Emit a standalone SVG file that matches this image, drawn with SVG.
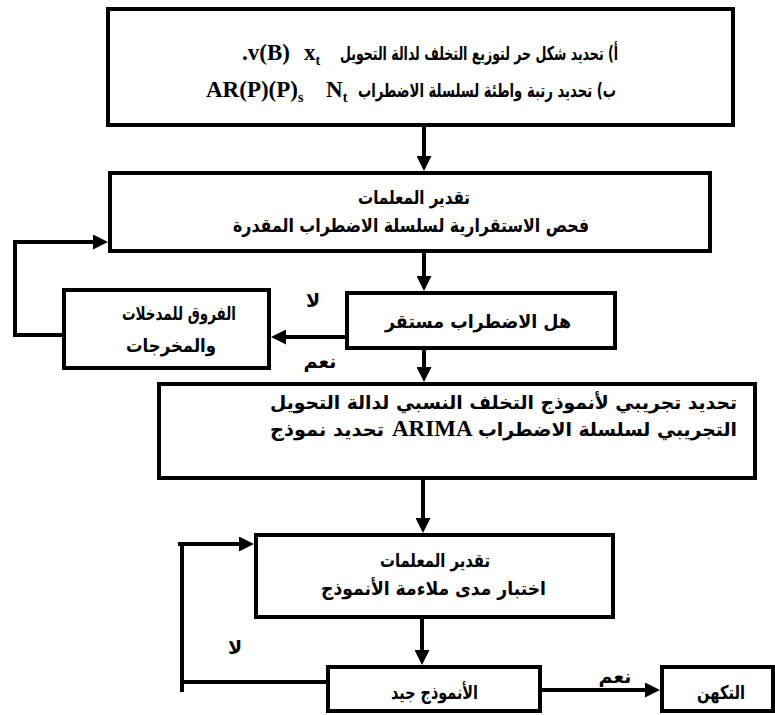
<svg xmlns="http://www.w3.org/2000/svg" width="775" height="715" viewBox="0 0 775 715">
<style>
.box{fill:#fff;stroke:#000;stroke-width:4}
.ln{fill:none;stroke:#000;stroke-width:4}
.ar{font-family:"DejaVu Sans","Liberation Sans",sans-serif;font-weight:bold;font-size:19px;fill:#000}
.lat{font-family:"Liberation Serif",serif;font-weight:bold;font-size:23px;fill:#000}
.sub{font-size:14px}
</style>
<defs>
<marker id="ah" markerUnits="userSpaceOnUse" viewBox="0 0 15 15" markerWidth="15" markerHeight="15" refX="3" refY="7.5" orient="auto">
<path d="M0,0 L15,7.5 L0,15 z" fill="#000"/>
</marker>
</defs>
<rect width="775" height="715" fill="#fff"/>

<g id="connectors">
<line class="ln" x1="424" y1="127" x2="424" y2="159" marker-end="url(#ah)"/>
<line class="ln" x1="424" y1="253" x2="424" y2="279" marker-end="url(#ah)"/>
<line class="ln" x1="424" y1="350" x2="424" y2="370" marker-end="url(#ah)"/>
<line class="ln" x1="345" y1="337" x2="283" y2="337" marker-end="url(#ah)"/>
<path class="ln" d="M62,335 H15 V242 H96" marker-end="url(#ah)"/>
<line class="ln" x1="423" y1="480" x2="423" y2="521" marker-end="url(#ah)"/>
<line class="ln" x1="422" y1="619" x2="422" y2="653" marker-end="url(#ah)"/>
<line class="ln" x1="326" y1="682" x2="182" y2="682"/>
<line class="ln" x1="182" y1="692" x2="182" y2="544"/>
<line class="ln" x1="178" y1="544" x2="242" y2="544" marker-end="url(#ah)"/>
<line class="ln" x1="542" y1="690" x2="648" y2="690" marker-end="url(#ah)"/>
<text class="ar" x="313" y="307" text-anchor="middle" font-size="20">لا</text>
<text class="ar" x="320" y="368" text-anchor="middle" font-size="16">نعم</text>
<text class="ar" x="235" y="654" text-anchor="middle" font-size="20">لا</text>
<text class="ar" x="615" y="683" text-anchor="middle" font-size="16">نعم</text>
</g>

<g id="node1">
<rect class="box" x="108" y="9" width="625" height="116"/>
<text class="lat" x="242" y="60">.v(B)</text>
<text class="lat" x="304" y="60">x<tspan class="sub" dy="5">t</tspan></text>
<text class="ar" x="340" y="60" font-size="20" textLength="278" lengthAdjust="spacingAndGlyphs">أ)  تحديد شكل حر لتوزيع التخلف لدالة التحويل</text>
<text class="lat" x="206" y="97">AR(P)(P)<tspan class="sub" dy="5">s</tspan></text>
<text class="lat" x="326" y="97">N<tspan class="sub" dy="5">t</tspan></text>
<text class="ar" x="358" y="97" font-size="20" textLength="258" lengthAdjust="spacingAndGlyphs">ب) تحديد رتبة واطئة لسلسلة الاضطراب</text>
</g>

<g id="node2">
<rect class="box" x="110" y="173" width="600" height="78"/>
<text class="ar" x="358" y="204" textLength="112" lengthAdjust="spacingAndGlyphs">تقدير المعلمات</text>
<text class="ar" x="233" y="232" textLength="356" lengthAdjust="spacingAndGlyphs">فحص الاستقرارية لسلسلة الاضطراب المقدرة</text>
</g>

<g id="node3">
<rect class="box" x="347" y="293" width="268" height="55"/>
<text class="ar" x="385" y="328" font-size="22" textLength="186" lengthAdjust="spacingAndGlyphs">هل الاضطراب مستقر</text>
</g>

<g id="node4">
<rect class="box" x="64" y="290" width="205" height="78"/>
<text class="ar" x="122" y="320" textLength="114" lengthAdjust="spacingAndGlyphs">الفروق للمدخلات</text>
<text class="ar" x="126" y="352" textLength="90" lengthAdjust="spacingAndGlyphs">والمخرجات</text>
</g>

<g id="node5">
<rect class="box" x="159" y="384" width="596" height="94"/>
<text class="ar" x="270" y="409" textLength="467" lengthAdjust="spacingAndGlyphs">تحديد تجريبي لأنموذج التخلف النسبي لدالة التحويل</text>
<text class="ar" x="270" y="436" textLength="114" lengthAdjust="spacingAndGlyphs">تحديد نموذج</text>
<text class="lat" x="392" y="436">ARIMA</text>
<text class="ar" x="478" y="436" textLength="259" lengthAdjust="spacingAndGlyphs">التجريبي لسلسلة الاضطراب</text>
</g>

<g id="node6">
<rect class="box" x="256" y="535" width="357" height="82"/>
<text class="ar" x="380" y="567" textLength="110" lengthAdjust="spacingAndGlyphs">تقدير المعلمات</text>
<text class="ar" x="321" y="595" textLength="225" lengthAdjust="spacingAndGlyphs">اختبار مدى ملاءمة الأنموذج</text>
</g>

<g id="node7">
<rect class="box" x="328" y="667" width="212" height="44"/>
<text class="ar" x="391" y="699" textLength="87" lengthAdjust="spacingAndGlyphs">الأنموذج جيد</text>
</g>

<g id="node8">
<rect class="box" x="662" y="667" width="111" height="44"/>
<text class="ar" x="697" y="699" textLength="48" lengthAdjust="spacingAndGlyphs">التكهن</text>
</g>
</svg>
